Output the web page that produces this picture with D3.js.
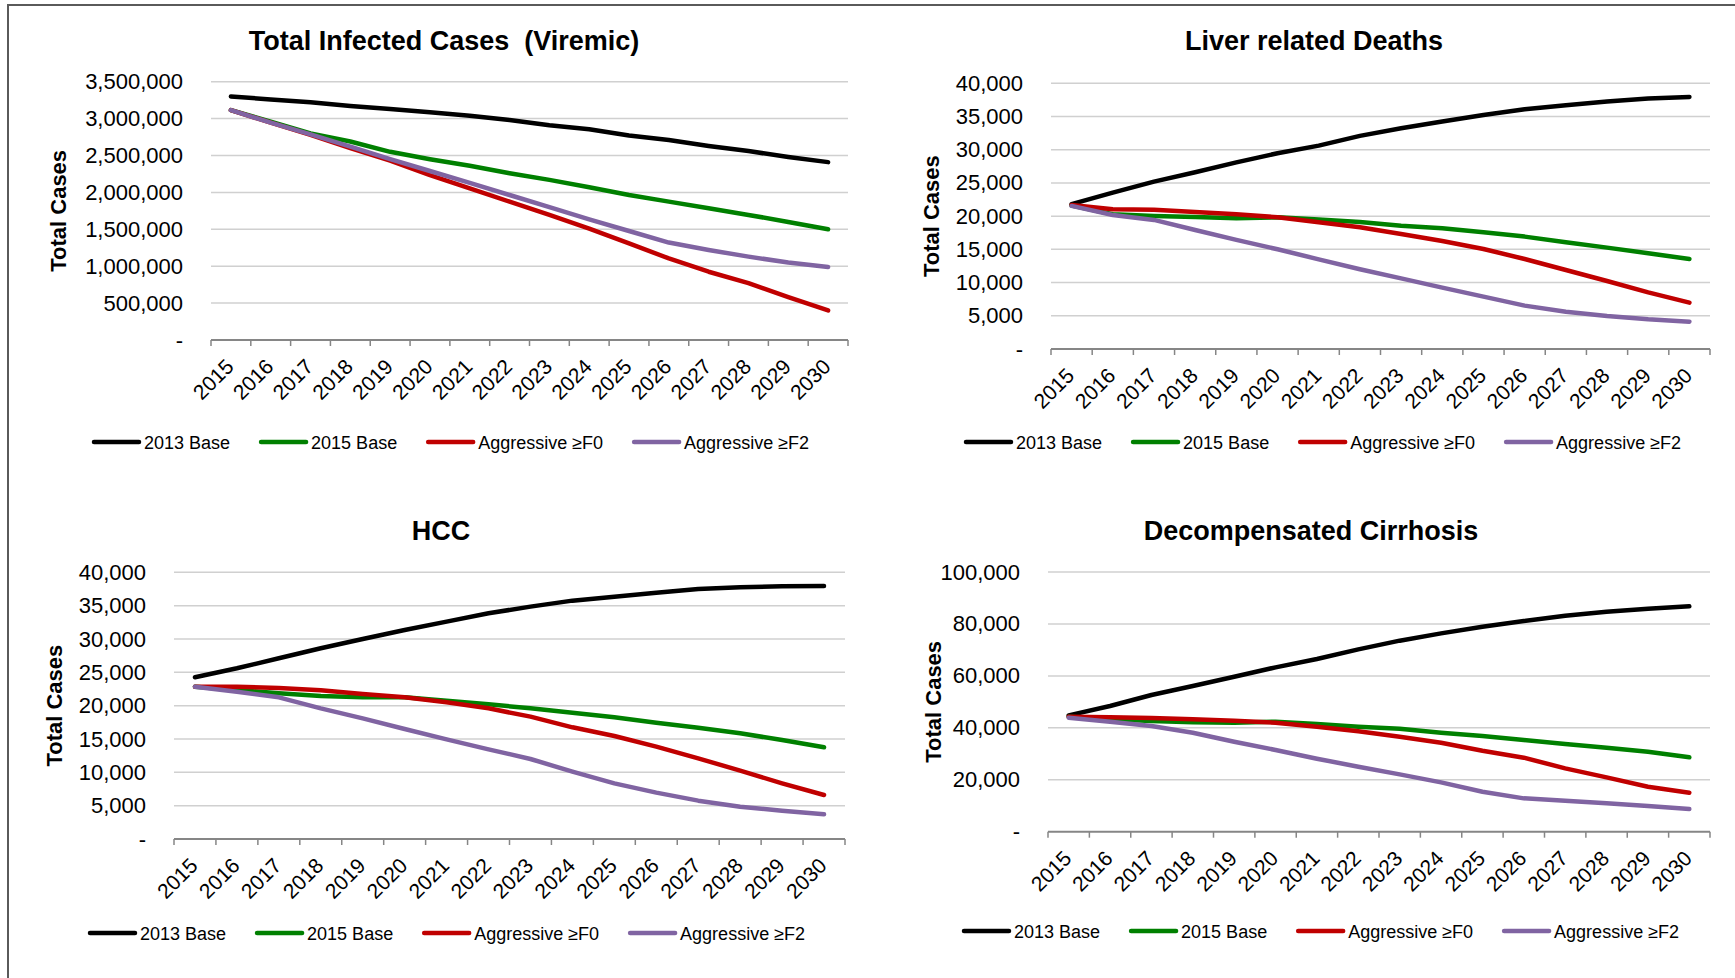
<!DOCTYPE html>
<html>
<head>
<meta charset="utf-8">
<script src="https://cdn.jsdelivr.net/npm/d3@7"></script>
<style>
  body { margin: 0; background: #fff; }
  svg { display: block; font-family: "Liberation Sans", Arial, sans-serif; }
</style>
</head>
<body>
<svg id="chart"></svg>
<script>
// Data
const years = ["2015", "2016", "2017", "2018", "2019", "2020", "2021", "2022",
               "2023", "2024", "2025", "2026", "2027", "2028", "2029", "2030"];
const seriesNames = ["2013 Base", "2015 Base", "Aggressive ≥F0", "Aggressive ≥F2"];
const seriesColors = ["#000000", "#008000", "#c00000", "#8064a2"];

// Total infected cases (viremic)
const viremic2013 = [3300000, 3260000, 3220000, 3170000, 3130000, 3085000, 3040000, 2980000,
                     2910000, 2855000, 2770000, 2710000, 2630000, 2560000, 2480000, 2410000];
const viremic2015 = [3115000, 2960000, 2800000, 2690000, 2550000, 2450000, 2360000, 2260000,
                     2170000, 2070000, 1965000, 1875000, 1785000, 1695000, 1600000, 1500000];
const viremicF0 = [3115000, 2945000, 2780000, 2600000, 2430000, 2235000, 2055000, 1875000,
                   1695000, 1510000, 1310000, 1105000, 925000, 770000, 580000, 400000];
const viremicF2 = [3115000, 2945000, 2787000, 2620000, 2450000, 2290000, 2130000, 1965000,
                   1800000, 1635000, 1477000, 1320000, 1220000, 1130000, 1050000, 990000];
const viremicTicks = [0, 500000, 1000000, 1500000, 2000000, 2500000, 3000000, 3500000];

// Liver related deaths
const deaths2013 = [21800, 23540, 25200, 26600, 28100, 29470, 30620, 32080,
                    33230, 34240, 35240, 36100, 36700, 37250, 37700, 37950];
const deaths2015 = [21590, 20280, 20030, 19880, 19680, 19830, 19480, 19130,
                    18570, 18170, 17570, 16920, 16070, 15260, 14410, 13550];
const deathsF0 = [21690, 21030, 20980, 20630, 20280, 19830, 19080, 18320,
                  17320, 16270, 15060, 13550, 11900, 10240, 8530, 6980];
const deathsF2 = [21540, 20180, 19430, 17920, 16420, 15010, 13500, 12000,
                  10640, 9240, 7880, 6530, 5620, 4970, 4470, 4120];
const deathsTicks = [0, 5000, 10000, 15000, 20000, 25000, 30000, 35000, 40000];

// HCC
const hcc2013 = [24250, 25600, 27100, 28600, 30000, 31350, 32600, 33850,
                 34850, 35750, 36350, 36950, 37500, 37750, 37900, 37950];
const hcc2015 = [22850, 22350, 21850, 21450, 21250, 21250, 20750, 20200,
                 19600, 18950, 18250, 17450, 16700, 15850, 14850, 13750];
const hccF0 = [22850, 22850, 22650, 22300, 21750, 21250, 20500, 19600,
               18350, 16750, 15450, 13850, 12100, 10250, 8350, 6600];
const hccF2 = [22850, 22100, 21250, 19600, 18100, 16500, 14950, 13450,
               12000, 10100, 8350, 6950, 5750, 4850, 4250, 3700];
const hccTicks = [0, 5000, 10000, 15000, 20000, 25000, 30000, 35000, 40000];

// Decompensated cirrhosis
const decomp2013 = [44800, 48400, 52630, 56100, 59690, 63290, 66500, 70220,
                    73560, 76380, 78950, 81130, 83180, 84720, 85880, 86780];
const decomp2015 = [44290, 43260, 42620, 42100, 41980, 42360, 41460, 40440,
                    39670, 38120, 36840, 35300, 33760, 32350, 30810, 28630];
const decompF0 = [44290, 44030, 43770, 43260, 42750, 41980, 40440, 38640,
                  36590, 34280, 31190, 28500, 24390, 20920, 17330, 15020];
const decompF2 = [43900, 42360, 40690, 38120, 34660, 31450, 28110, 25030,
                  22080, 19000, 15400, 12840, 11940, 10910, 9880, 8730];
const decompTicks = [0, 20000, 40000, 60000, 80000, 100000];

// Layout
const width = 1735;
const height = 978;

const panels = [
    { title: "Total Infected Cases  (Viremic)", series: [viremic2013, viremic2015, viremicF0, viremicF2],
      ticks: viremicTicks, left: 211, right: 848, top: 81.7, bottom: 340,
      titleX: 444, titleY: 50, labelX: 58, legendX: 94, legendY: 442 },
    { title: "Liver related Deaths", series: [deaths2013, deaths2015, deathsF0, deathsF2],
      ticks: deathsTicks, left: 1051, right: 1710, top: 83.3, bottom: 349,
      titleX: 1314, titleY: 50, labelX: 931, legendX: 966, legendY: 442 },
    { title: "HCC", series: [hcc2013, hcc2015, hccF0, hccF2],
      ticks: hccTicks, left: 174, right: 845, top: 572.3, bottom: 839,
      titleX: 441, titleY: 540, labelX: 54, legendX: 90, legendY: 933 },
    { title: "Decompensated Cirrhosis", series: [decomp2013, decomp2015, decompF0, decompF2],
      ticks: decompTicks, left: 1048, right: 1710, top: 572, bottom: 831.7,
      titleX: 1311, titleY: 540, labelX: 933, legendX: 964, legendY: 931 }
];

const svg = d3.select("#chart")
    .attr("width", width)
    .attr("height", height);

// outer frame (top and left edges only)
svg.append("path")
    .attr("d", "M8," + height + "V5H" + width)
    .attr("fill", "none")
    .attr("stroke", "#5a5a5a")
    .attr("stroke-width", 2);

const fmt = d3.format(",");

panels.forEach(function(p) {
    const g = svg.append("g");

    const xScale = d3.scaleBand()
        .domain(years)
        .range([p.left, p.right]);

    const yScale = d3.scaleLinear()
        .domain([0, d3.max(p.ticks)])
        .range([p.bottom, p.top]);

    // gridlines
    g.selectAll(".grid")
        .data(p.ticks.filter(d => d > 0))
        .enter()
        .append("line")
        .attr("x1", p.left)
        .attr("x2", p.right)
        .attr("y1", d => yScale(d))
        .attr("y2", d => yScale(d))
        .attr("stroke", "#d0d0d0")
        .attr("stroke-width", 1.5);

    // y tick labels
    const yAxis = d3.axisLeft(yScale)
        .tickValues(p.ticks)
        .tickSize(0)
        .tickPadding(28)
        .tickFormat(d => d === 0 ? "-" : fmt(d));
    const yg = g.append("g")
        .attr("transform", "translate(" + p.left + ",0)")
        .call(yAxis);
    yg.select(".domain").remove();
    yg.selectAll("text")
        .attr("font-family", "Liberation Sans, Arial, sans-serif")
        .attr("font-size", 22)
        .attr("fill", "#000");

    // x axis line and tick marks at category boundaries
    g.append("line")
        .attr("x1", p.left)
        .attr("x2", p.right)
        .attr("y1", p.bottom)
        .attr("y2", p.bottom)
        .attr("stroke", "#868686")
        .attr("stroke-width", 2);

    const bounds = years.map(d => xScale(d)).concat([p.right]);
    g.selectAll(".xtick")
        .data(bounds)
        .enter()
        .append("line")
        .attr("x1", d => d)
        .attr("x2", d => d)
        .attr("y1", p.bottom)
        .attr("y2", p.bottom + 6)
        .attr("stroke", "#868686")
        .attr("stroke-width", 1.5);

    // rotated year labels
    g.selectAll(".year")
        .data(years)
        .enter()
        .append("text")
        .attr("transform", d => "translate(" + (xScale(d) + xScale.bandwidth() / 2 + 4) + "," + (p.bottom + 28) + ") rotate(-45)")
        .style("text-anchor", "end")
        .attr("font-size", 21)
        .text(d => d);

    // lines
    const line = d3.line()
        .x((d, i) => xScale(years[i]) + xScale.bandwidth() / 2)
        .y(d => yScale(d));

    p.series.forEach(function(values, i) {
        g.append("path")
            .datum(values)
            .attr("d", line)
            .attr("fill", "none")
            .attr("stroke", seriesColors[i])
            .attr("stroke-width", 4.5)
            .attr("stroke-linejoin", "round")
            .attr("stroke-linecap", "round");
    });

    // title
    g.append("text")
        .attr("x", p.titleX)
        .attr("y", p.titleY)
        .style("text-anchor", "middle")
        .style("white-space", "pre")
        .attr("font-size", 27)
        .attr("font-weight", "bold")
        .text(p.title);

    // y axis label
    g.append("text")
        .attr("transform", "translate(" + p.labelX + "," + ((p.top + p.bottom) / 2) + ") rotate(-90)")
        .attr("dy", "0.35em")
        .style("text-anchor", "middle")
        .attr("font-size", 22)
        .attr("font-weight", "bold")
        .text("Total Cases");

    // legend
    let lx = p.legendX;
    seriesNames.forEach(function(name, i) {
        g.append("line")
            .attr("x1", lx)
            .attr("x2", lx + 45)
            .attr("y1", p.legendY)
            .attr("y2", p.legendY)
            .attr("stroke", seriesColors[i])
            .attr("stroke-width", 4.5)
            .attr("stroke-linecap", "round");
        const t = g.append("text")
            .attr("x", lx + 50)
            .attr("y", p.legendY)
            .attr("dy", "0.37em")
            .attr("font-size", 18)
            .text(name);
        lx += 50 + t.node().getComputedTextLength() + 31;
    });
});
</script>
</body>
</html>
